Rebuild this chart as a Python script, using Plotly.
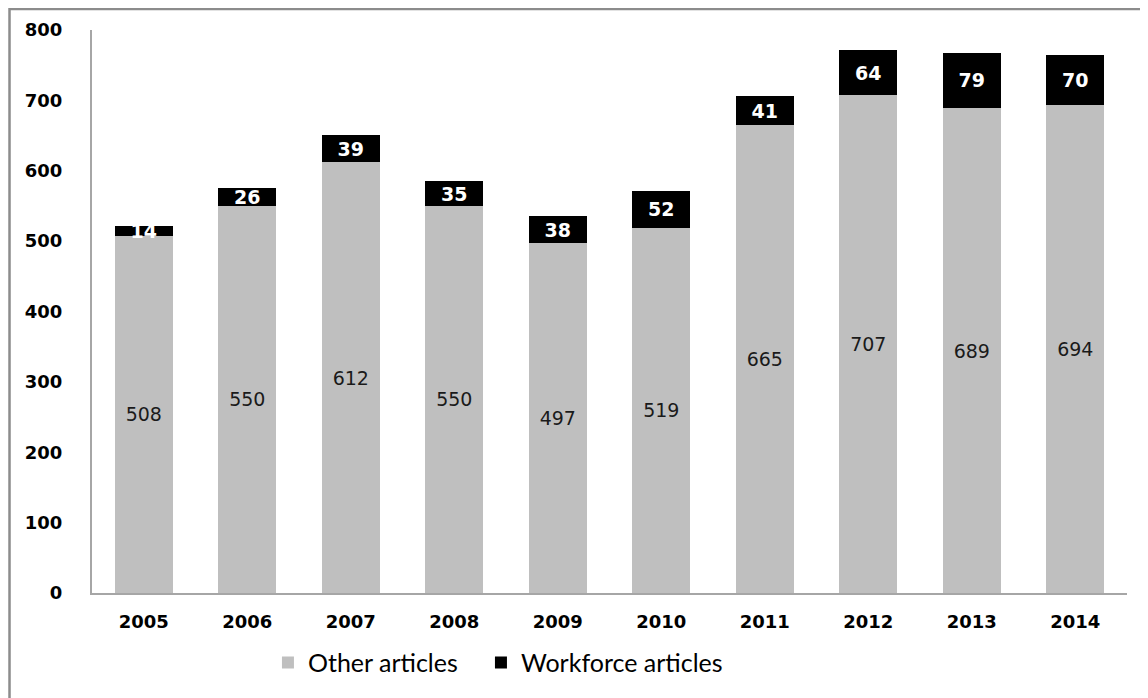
import plotly.graph_objects as go

years = ["2005", "2006", "2007", "2008", "2009", "2010", "2011", "2012", "2013", "2014"]
other_articles = [508, 550, 612, 550, 497, 519, 665, 707, 689, 694]
workforce_articles = [14, 26, 39, 35, 38, 52, 41, 64, 79, 70]

fig = go.Figure()
fig.add_trace(go.Bar(
    x=years, y=other_articles, name="Other articles",
    marker=dict(color="#bfbfbf", line=dict(width=0)),
    text=other_articles, texttemplate="%{text}", textposition="inside",
    insidetextanchor="middle", textangle=0, constraintext="none",
    textfont=dict(family="DejaVu Sans", size=19, color="#1a1a1a"),
    legendwidth=168,
))
fig.add_trace(go.Bar(
    x=years, y=workforce_articles, name="Workforce articles",
    marker=dict(color="#000000", line=dict(width=0)),
    text=workforce_articles, texttemplate="<b>%{text}</b>", textposition="inside",
    insidetextanchor="middle", textangle=0, constraintext="none",
    textfont=dict(family="DejaVu Sans", size=19, color="#ffffff"),
))

fig.update_layout(
    barmode="stack",
    bargap=0.44,
    width=1140, height=690,
    margin=dict(l=84, r=21, t=22, b=105),
    paper_bgcolor="white", plot_bgcolor="white",
    showlegend=True,
    legend=dict(orientation="h", x=0.170, xanchor="left", y=-0.124, yanchor="middle",
                font=dict(family="Lato", size=25, color="#000000"),
                traceorder="normal"),
    xaxis=dict(showline=True, linecolor="#a6a6a6", linewidth=2, ticks="",
               tickfont=dict(family="DejaVu Sans", size=18, color="#000000", weight="bold"),
               ticklabelstandoff=11, showgrid=False),
    yaxis=dict(range=[0, 800], dtick=100, showline=True, linecolor="#a6a6a6", linewidth=2,
               ticks="", showgrid=False, zeroline=False,
               tickfont=dict(family="DejaVu Sans", size=18, color="#000000", weight="bold"),
               ticklabelstandoff=24),
    shapes=[dict(type="rect", xref="paper", yref="paper", x0=-0.0797, x1=1.2, y0=-0.4, y1=1.0373,
                 line=dict(color="#8c8c8c", width=2.5), fillcolor="rgba(0,0,0,0)", layer="above")],
)

fig.write_html("out.html")
